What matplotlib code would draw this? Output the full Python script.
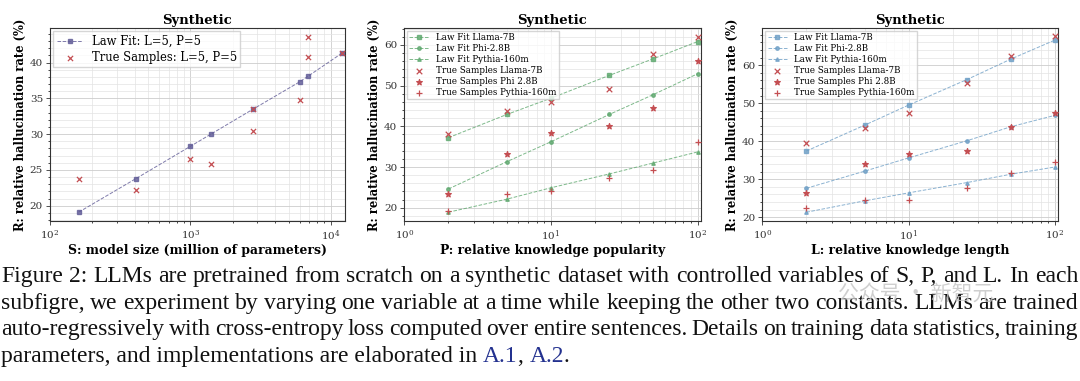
import matplotlib
matplotlib.use('Agg')
import matplotlib.pyplot as plt
from matplotlib.ticker import AutoMinorLocator

# panel 1: model size
size_fit_x = [160, 410, 1000, 1400, 2800, 6000, 6900, 12000]
size_fit_y = [19.1, 23.8, 28.3, 30.0, 33.5, 37.3, 38.1, 41.3]
size_true_x = [160, 410, 1000, 1400, 2800, 2800, 6000, 6900, 6900, 12000]
size_true_y = [23.7, 22.2, 26.5, 25.8, 33.5, 30.4, 34.7, 40.8, 43.6, 41.3]

# panels 2 and 3 share x values
xs = [2, 5, 10, 25, 50, 100]
models = ['Llama-7B', 'Phi-2.8B', 'Pythia-160m']
true_names = ['Llama-7B', 'Phi 2.8B', 'Pythia-160m']

pop_fit = {
    'Llama-7B': [37.2, 42.9, 46.9, 52.5, 56.6, 60.8],
    'Phi-2.8B': [24.6, 31.3, 36.2, 42.9, 47.8, 52.9],
    'Pythia-160m': [18.9, 22.1, 24.9, 28.3, 31.0, 33.7],
}
pop_true = {
    'Llama-7B': [38.1, 43.7, 46.0, 49.2, 57.8, 62.0],
    'Phi-2.8B': [23.4, 33.2, 38.3, 40.1, 44.6, 56.0],
    'Pythia-160m': [19.2, 23.4, 24.1, 27.2, 29.3, 36.2],
}
len_fit = {
    'Llama-7B': [37.4, 44.2, 49.5, 56.2, 61.6, 66.6],
    'Phi-2.8B': [27.6, 32.1, 35.6, 40.1, 43.8, 46.8],
    'Pythia-160m': [21.3, 24.3, 26.4, 29.1, 31.3, 33.2],
}
len_true = {
    'Llama-7B': [39.4, 43.5, 47.3, 55.3, 62.4, 67.7],
    'Phi-2.8B': [26.4, 34.0, 36.5, 37.3, 43.8, 47.5],
    'Pythia-160m': [22.5, 24.5, 24.5, 27.6, 31.7, 34.5],
}

caption = [
    "Figure 2: LLMs are pretrained from scratch on a synthetic dataset with controlled variables of S, P, and L. In each",
    "subfigre, we experiment by varying one variable at a time while keeping the other two constants. LLMs are trained",
    "auto-regressively with cross-entropy loss computed over entire sentences. Details on training data statistics, training",
]
caption_last = "parameters, and implementations are elaborated in"
# (text, colour, gap before it in points)
caption_refs = [('A.1', '#23318f', 4.2), (',', '#111111', 0), ('A.2', '#23318f', 4.2), ('.', '#111111', 0)]

red = '#c44e52'
fit_markers = ['s', 'o', '^']
true_markers = ['x', '*', '+']

plt.rcParams['font.family'] = 'DejaVu Serif'
fig = plt.figure(figsize=(10.8, 3.81), dpi=100)

ax1 = fig.add_axes([0.0463, 0.42, 0.273, 0.5066])
ax2 = fig.add_axes([0.3743, 0.42, 0.2744, 0.5066])
ax3 = fig.add_axes([0.7058, 0.42, 0.2737, 0.5066])


def style(ax, xlabel):
    ax.set_xscale('log')
    ax.yaxis.set_minor_locator(AutoMinorLocator(5))
    ax.grid(True, which='major', color='#cccccc', linewidth=0.6)
    ax.grid(True, which='minor', color='#e3e3e3', linewidth=0.5)
    ax.set_axisbelow(True)
    ax.tick_params(labelsize=7.5, colors='#333333', length=3, width=0.6, pad=2)
    ax.tick_params(which='minor', length=1.5, width=0.5)
    for s in ax.spines.values():
        s.set_color('#333333')
        s.set_linewidth(0.8)
    ax.set_title('Synthetic', fontsize=9.5, fontweight='bold', pad=3)
    ax.set_xlabel(xlabel, fontsize=8.9, fontweight='bold', labelpad=1)
    ax.set_ylabel('R: relative hallucination rate (%)', fontsize=8.3, fontweight='bold', labelpad=2)


# panel 1
purple = '#5f5a96'
ax1.plot(size_fit_x, size_fit_y, color=purple, linestyle='--', linewidth=0.7, alpha=0.8,
         marker='s', markersize=2.5, label='Law Fit: L=5, P=5')
ax1.scatter(size_true_x, size_true_y, color=red, marker='x', s=14, linewidths=0.9,
            label='True Samples: L=5, P=5', zorder=3)
ax1.set_xlim(left=100)
style(ax1, 'S: model size (million of parameters)')
ax1.legend(loc='upper left', fontsize=8.3, frameon=True, borderpad=0.3, labelspacing=0.25,
           handlelength=2.2, borderaxespad=0.3, fancybox=False, edgecolor='#cccccc')


def draw_family(ax, fit, true, color, xlabel):
    for m, fm in zip(models, fit_markers):
        ax.plot(xs, fit[m], color=color, linestyle='--', linewidth=0.7, alpha=0.8,
                marker=fm, markersize=2.5, label='Law Fit ' + m)
    for m, tn, tm in zip(models, true_names, true_markers):
        size = 16 if tm != '*' else 18
        ax.scatter(xs, true[m], color=red, marker=tm, s=size, linewidths=0.9,
                   label='True Samples ' + tn, zorder=3)
    ax.set_xlim(left=1)
    style(ax, xlabel)
    ax.legend(loc='upper left', fontsize=6.3, frameon=True, borderpad=0.3, labelspacing=0.22,
              handlelength=2.2, borderaxespad=0.3, fancybox=False, edgecolor='#cccccc')


draw_family(ax2, pop_fit, pop_true, '#5ea86e', 'P: relative knowledge popularity')
draw_family(ax3, len_fit, len_true, '#6e9fc6', 'L: relative knowledge length')
ax3.set_ylim(19.0, 69.8)

# caption, justified word by word
cap_font = dict(family='Liberation Serif', fontsize=17, color='#111111', va='center', ha='left')
renderer = fig.canvas.get_renderer()
W = fig.get_figwidth() * fig.dpi
x_left, x_right = 1.0, 1078.0
for i, line in enumerate(caption):
    y = 1 - (276.7 + 26.6 * i) / 381
    words = line.split(' ')
    texts = [fig.text(0, y, w, **cap_font) for w in words]
    widths = [t.get_window_extent(renderer).width for t in texts]
    gap = (x_right - x_left - sum(widths)) / (len(words) - 1)
    x = x_left
    for t, w in zip(texts, widths):
        t.set_x(x / W)
        x += w + gap

last = fig.text(x_left / W, 1 - (276.7 + 26.6 * 3) / 381, caption_last, **cap_font)
for txt, col, gap in caption_refs:
    last = fig.add_artist(matplotlib.text.Annotation(
        txt, xy=(1, 0), xycoords=last, xytext=(gap, 0), textcoords='offset points',
        va='bottom', ha='left', family='Liberation Serif', fontsize=17, color=col,
        annotation_clip=False))

# faint watermark
fig.text(838 / W, 1 - 295 / 381, '公众号 · 新智元', family=['Noto Sans CJK SC', 'DejaVu Sans'],
         fontsize=15, color='#c4c4c4', alpha=0.8, va='center', ha='left')

fig.savefig('out.png', dpi=100)
